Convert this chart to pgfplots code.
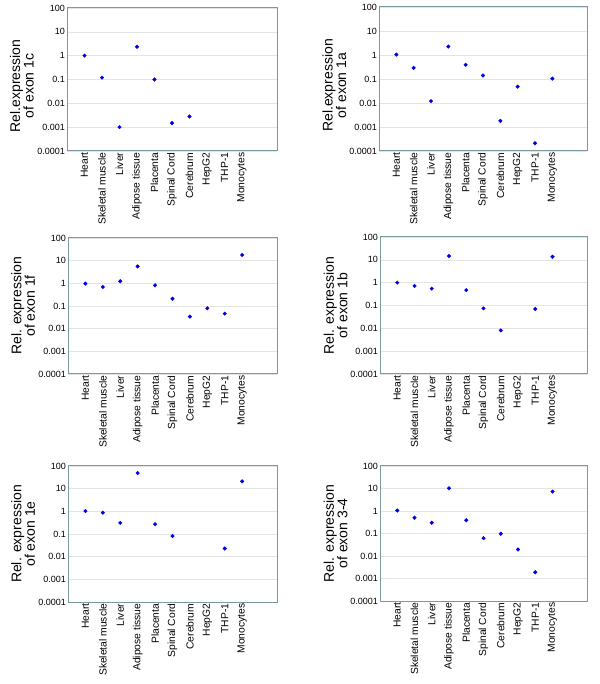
\documentclass[border=0pt]{standalone}
\usepackage{pgfplots}
\pgfplotsset{compat=1.18}
\usepackage{fontspec}
\setmainfont{Liberation Sans}
\definecolor{framec}{HTML}{7A9A9E}
\definecolor{gridc}{HTML}{E4E4E4}
\pgfplotsset{
  every axis/.append style={
    scale only axis,
    anchor=south west,
    xmin=0, xmax=12,
    ymin=1e-4, ymax=100,
    ytick={1e-4,1e-3,1e-2,1e-1,1,10,100},
    yticklabels={0.0001,0.001,0.01,0.1,1,10,100},
    yminorticks=false,
    xtick={1,2,3,4,5,6,7,8,9,10},
    xticklabels={Heart,Skeletal muscle,Liver,Adipose tissue,Placenta,Spinal Cord,Cerebrum,HepG2,THP-1,Monocytes},
    xticklabel style={rotate=90, anchor=east, font=\fontsize{10.3bp}{12bp}\selectfont, inner sep=1.5bp},
    yticklabel style={font=\fontsize{9bp}{11bp}\selectfont, inner sep=2bp},
    major tick length=0pt,
    minor tick length=0pt,
    ymajorgrids,
    major grid style={gridc, line width=0.6bp},
    axis line style={framec, line width=1bp},
    axis on top,
    ylabel style={align=center, font=\fontsize{14bp}{13.5bp}\selectfont, at={(axis description cs:-0.215,0.5)}, anchor=center},
  },
  every axis plot/.append style={blue, only marks, mark=*, mark size=1.8bp},
}
\begin{document}
\begin{tikzpicture}
\useasboundingbox (0,0) rectangle (600bp,684bp);
% exon 1c
\begin{semilogyaxis}[at={(67bp,533bp)}, width=210bp, height=143bp, ylabel={Rel.expression\\of exon 1c},
  ylabel style={at={(axis description cs:-0.215,0.455)}}]
\addplot coordinates {(1,1.0) (2,0.12) (3,0.001) (4,2.35) (5,0.10) (6,0.0015) (7,0.0028)};
\end{semilogyaxis}
% exon 1a
\begin{semilogyaxis}[at={(379bp,533bp)}, width=208bp, height=144bp, ylabel={Rel.expression\\of exon 1a},
  ylabel style={at={(axis description cs:-0.215,0.455)}}]
\addplot coordinates {(1,1.04) (2,0.29) (3,0.012) (4,2.25) (5,0.39) (6,0.14) (7,0.0018) (8,0.048) (9,0.00021) (10,0.104)};
\end{semilogyaxis}
% exon 1f
\begin{semilogyaxis}[at={(68bp,310bp)}, width=209bp, height=136bp, ylabel={Rel. expression\\of exon 1f}]
\addplot coordinates {(1,0.97) (2,0.69) (3,1.23) (4,5.6) (5,0.82) (6,0.21) (7,0.034) (8,0.079) (9,0.046) (10,17.8)};
\end{semilogyaxis}
% exon 1b
\begin{semilogyaxis}[at={(380bp,310bp)}, width=207bp, height=137bp, ylabel={Rel. expression\\of exon 1b}]
\addplot coordinates {(1,1.0) (2,0.72) (3,0.55) (4,14.6) (5,0.47) (6,0.075) (7,0.0081) (9,0.07) (10,13.6)};
\end{semilogyaxis}
% exon 1e
\begin{semilogyaxis}[at={(68bp,82bp)}, width=209bp, height=136bp, ylabel={Rel. expression\\of exon 1e}]
\addplot coordinates {(1,1.03) (2,0.87) (3,0.31) (4,49) (5,0.27) (6,0.081) (9,0.023) (10,21)};
\end{semilogyaxis}
% exon 3-4
\begin{semilogyaxis}[at={(380bp,83bp)}, width=207bp, height=135bp, ylabel={Rel. expression\\of exon 3-4}]
\addplot coordinates {(1,1.05) (2,0.50) (3,0.30) (4,10.2) (5,0.39) (6,0.062) (7,0.097) (8,0.0196) (9,0.0019) (10,7.3)};
\end{semilogyaxis}
\end{tikzpicture}
\end{document}
